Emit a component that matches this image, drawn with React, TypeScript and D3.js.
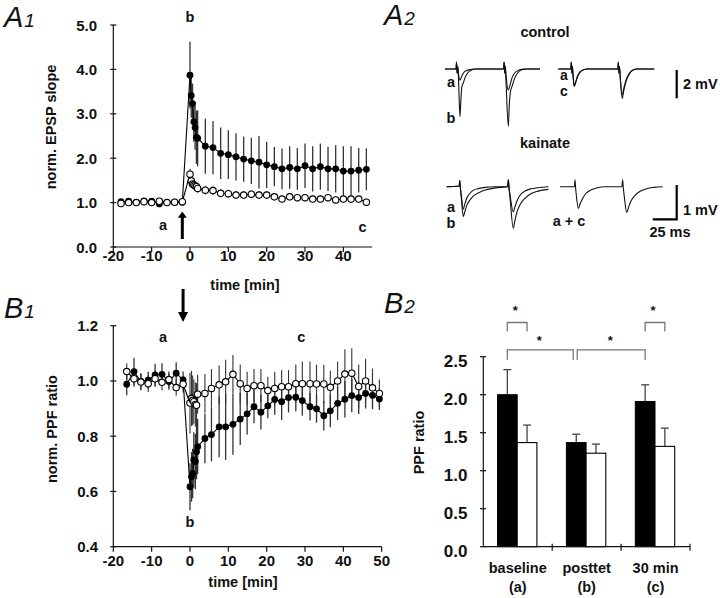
import React from 'react';
import * as d3 from 'd3';

const FONT = '"Liberation Sans", Arial, Helvetica, sans-serif';

// ---------- A1: norm. EPSP slope ----------
const a1Times = [-18, -16, -14, -12, -10, -8, -6, -4, -2, 0, 0.33, 0.67, 1, 1.33, 1.67, 2, 4, 6, 8, 10, 12, 14, 16, 18, 20, 22, 24, 26, 28, 30, 32, 34, 36, 38, 40, 42, 44, 46];
const a1Kainate = [1.02, 1.03, 1.0, 1.04, 1.03, 0.97, 1.0, 1.01, 1.01, 3.87, 3.41, 3.23, 2.82, 2.69, 2.47, 2.45, 2.27, 2.24, 2.11, 2.08, 2.03, 1.98, 1.94, 1.91, 1.85, 1.81, 1.76, 1.79, 1.76, 1.83, 1.76, 1.81, 1.76, 1.76, 1.71, 1.71, 1.73, 1.75];
const a1KainateErr = [0.04, 0.03, 0.03, 0.03, 0.04, 0.05, 0.03, 0.03, 0.03, 0.75, 0.5, 0.45, 0.45, 0.5, 0.6, 0.63, 0.62, 0.6, 0.58, 0.55, 0.53, 0.51, 0.52, 0.59, 0.52, 0.44, 0.46, 0.48, 0.47, 0.5, 0.51, 0.52, 0.5, 0.53, 0.56, 0.56, 0.5, 0.47];
const a1Control = [0.98, 1.0, 1.0, 1.02, 1.0, 1.03, 1.0, 1.01, 1.02, 1.64, 1.49, 1.42, 1.4, 1.38, 1.36, 1.32, 1.28, 1.27, 1.21, 1.2, 1.17, 1.17, 1.19, 1.17, 1.17, 1.13, 1.08, 1.13, 1.11, 1.11, 1.08, 1.08, 1.11, 1.06, 1.08, 1.08, 1.08, 1.01];
const a1ControlErr = [0.03, 0.03, 0.03, 0.03, 0.03, 0.03, 0.03, 0.03, 0.03, 0.12, 0.1, 0.1, 0.1, 0.1, 0.1, 0.1, 0.1, 0.1, 0.09, 0.09, 0.09, 0.09, 0.09, 0.09, 0.09, 0.08, 0.08, 0.08, 0.08, 0.08, 0.08, 0.08, 0.08, 0.08, 0.08, 0.08, 0.08, 0.08];
const a1YTicks = [0, 1, 2, 3, 4, 5];
const a1XTicks = [-20, -10, 0, 10, 20, 30, 40];

// ---------- B1: norm. PPF ratio ----------
const b1Times = [-16.5, -14.6, -12.8, -10.9, -9.1, -7.3, -5.5, -3.6, -1.8, 0, 0.4, 0.7, 1.0, 1.4, 1.7, 2.0, 3.9, 5.6, 7.6, 9.3, 11.2, 13.1, 14.9, 16.7, 18.5, 20.3, 22.1, 23.9, 25.7, 27.6, 29.3, 31.3, 33.0, 34.9, 36.6, 38.5, 40.4, 42.2, 44.0, 45.8, 47.6, 49.4];
const b1Kainate = [0.988, 1.034, 0.998, 1.003, 1.022, 1.024, 0.998, 1.028, 1.004, 0.617, 0.653, 0.665, 0.714, 0.708, 0.744, 0.762, 0.792, 0.806, 0.834, 0.834, 0.843, 0.862, 0.881, 0.907, 0.887, 0.91, 0.933, 0.925, 0.94, 0.941, 0.929, 0.907, 0.899, 0.874, 0.892, 0.919, 0.934, 0.947, 0.94, 0.955, 0.948, 0.935];
const b1KainateErr = [0.04, 0.05, 0.03, 0.03, 0.04, 0.04, 0.03, 0.04, 0.03, 0.085, 0.09, 0.09, 0.1, 0.1, 0.1, 0.1, 0.09, 0.097, 0.11, 0.12, 0.11, 0.094, 0.075, 0.06, 0.063, 0.045, 0.055, 0.066, 0.054, 0.051, 0.055, 0.05, 0.05, 0.053, 0.06, 0.06, 0.066, 0.06, 0.06, 0.055, 0.05, 0.04];
const b1Control = [1.034, 1.008, 0.996, 0.99, 1.008, 0.995, 1.005, 0.976, 0.988, 0.92, 0.937, 0.93, 0.925, 0.915, 0.912, 0.952, 0.955, 0.973, 0.986, 0.997, 1.024, 0.99, 0.973, 0.983, 0.983, 0.965, 0.973, 0.979, 0.979, 0.99, 0.99, 0.99, 0.989, 0.989, 0.977, 1.0, 1.025, 1.028, 0.98, 1.0, 0.975, 0.955];
const b1ControlErr = [0.03, 0.03, 0.03, 0.03, 0.03, 0.03, 0.03, 0.03, 0.03, 0.11, 0.1, 0.09, 0.08, 0.08, 0.08, 0.07, 0.07, 0.07, 0.07, 0.08, 0.07, 0.07, 0.06, 0.06, 0.06, 0.05, 0.06, 0.06, 0.06, 0.07, 0.08, 0.08, 0.07, 0.07, 0.06, 0.07, 0.09, 0.09, 0.08, 0.08, 0.07, 0.05];
const b1YTicks = [0.4, 0.6, 0.8, 1.0, 1.2];
const b1XTicks = [-20, -10, 0, 10, 20, 30, 40, 50];

// ---------- B2: PPF ratio bars ----------
const b2Categories = ['baseline', 'posttet', '30 min'];
const b2SubLabels = ['(a)', '(b)', '(c)'];
const b2Kainate = [2.0, 1.37, 1.91];
const b2KainateErr = [0.33, 0.11, 0.22];
const b2Control = [1.37, 1.23, 1.32];
const b2ControlErr = [0.23, 0.12, 0.24];
const b2YTicks = [0, 0.5, 1.0, 1.5, 2.0, 2.5];

// ---------- A2: example traces [ms, mV] ----------
const ctrlA = [[0, 0], [11.5, 0], [12, 0.5], [12.6, -0.3], [13.2, 0.2], [14, -0.3], [15.6, -0.8], [17, -0.6], [19, -0.3], [22, -0.12], [27, -0.03], [30, 0], [61, 0], [61.6, 0.5], [62.2, -0.3], [62.8, 0.2], [63.5, -0.4], [66, -1.5], [67.5, -1.2], [70, -0.6], [73, -0.25], [78, -0.05], [82, 0], [99, 0]];
const ctrlB = [[0, 0], [11.5, 0], [12, 0.5], [12.6, -0.3], [13.2, 0.2], [14, -0.6], [15.6, -3.4], [16.3, -2.5], [17.5, -1.3], [19, -1.0], [21, -0.6], [24, -0.25], [28, -0.06], [32, 0], [61, 0], [61.6, 0.5], [62.2, -0.3], [62.8, 0.2], [63.5, -0.8], [66, -4.1], [66.8, -2.8], [68, -1.7], [70, -1.2], [73, -0.6], [76, -0.25], [80, -0.06], [85, 0], [99, 0]];
const ctrlA2 = [[0, 0], [13, 0], [13.5, 0.5], [14.1, -0.3], [14.7, 0.2], [15.3, -0.4], [16.5, -1.25], [18, -1.0], [20, -0.55], [23, -0.2], [27, -0.04], [30, 0], [62, 0], [62.5, 0.5], [63.1, -0.3], [63.7, 0.2], [64.4, -0.5], [66.6, -2.1], [68, -1.6], [70.5, -0.9], [74, -0.35], [78, -0.08], [82, 0], [100, 0]];
const ctrlC = [[0, 0], [13, 0], [13.5, 0.5], [14.1, -0.3], [14.7, 0.2], [15.3, -0.4], [16.5, -1.18], [18, -0.95], [20, -0.5], [23, -0.18], [27, -0.03], [30, 0], [62, 0], [62.5, 0.5], [63.1, -0.3], [63.7, 0.2], [64.4, -0.5], [66.6, -1.85], [68, -1.45], [70.5, -0.8], [74, -0.3], [78, -0.06], [82, 0], [100, 0]];
const kaiA = [[0, 0], [13, 0.02], [13.6, 0.18], [14.3, -0.05], [15, -0.2], [17.3, -0.66], [19, -0.5], [21, -0.33], [24, -0.2], [28, -0.1], [34, -0.05], [40, -0.02], [50, 0], [63.5, 0], [64.2, 0.2], [65, -0.05], [66, -0.25], [69.4, -0.74], [71, -0.6], [73.5, -0.4], [77, -0.23], [82, -0.12], [88, -0.06], [95, -0.03], [106, 0]];
const kaiB = [[0, 0], [13, 0.02], [13.6, 0.18], [14.3, -0.05], [15, -0.25], [17.3, -0.88], [19, -0.72], [21, -0.55], [24, -0.4], [28, -0.27], [34, -0.17], [40, -0.1], [48, -0.05], [55, -0.02], [63.5, 0], [64.2, 0.2], [65, -0.05], [66, -0.35], [69.4, -1.22], [71, -1.0], [73.5, -0.72], [77, -0.5], [82, -0.33], [88, -0.2], [95, -0.13], [106, -0.08]];
const kaiAC = [[0, 0], [15, 0], [15.6, 0.2], [16.3, -0.05], [17, -0.25], [19.1, -0.64], [21, -0.5], [23.5, -0.35], [27, -0.2], [32, -0.1], [38, -0.04], [47, 0], [64.5, 0], [65.2, 0.2], [66, -0.05], [67, -0.3], [69.5, -0.76], [71.5, -0.6], [74, -0.42], [78, -0.26], [83, -0.14], [90, -0.06], [98, -0.02], [107, 0]];

const fmt1 = d3.format('.1f');

function PanelLabel({ x, y, letter, num }: any) {
  return (
    <text x={x} y={y} fontFamily={FONT} fontStyle="italic" fill="#111">
      <tspan fontSize={29}>{letter}</tspan>
      <tspan fontSize={19} dx={1}>{num}</tspan>
    </text>
  );
}

function TimeSeries({ times, kai, kaiErr, ctl, ctlErr, x, y }: any) {
  const line = d3.line<number>().x((_, i) => x(times[i])).y((d) => y(d));
  return (
    <g>
      {times.map((t: number, i: number) => (
        <line key={'ke' + i} x1={x(t)} x2={x(t)} y1={y(kai[i] - kaiErr[i])} y2={y(kai[i] + kaiErr[i])} stroke="#333" strokeWidth={1.3} />
      ))}
      {times.map((t: number, i: number) => (
        <line key={'ce' + i} x1={x(t)} x2={x(t)} y1={y(ctl[i] - ctlErr[i])} y2={y(ctl[i] + ctlErr[i])} stroke="#333" strokeWidth={1.1} />
      ))}
      <path d={line(kai) || ''} fill="none" stroke="#000" strokeWidth={1.1} />
      <path d={line(ctl) || ''} fill="none" stroke="#000" strokeWidth={1.1} />
      {times.map((t: number, i: number) => (
        <circle key={'kc' + i} cx={x(t)} cy={y(kai[i])} r={3.4} fill="#000" />
      ))}
      {times.map((t: number, i: number) => (
        <circle key={'cc' + i} cx={x(t)} cy={y(ctl[i])} r={3.2} fill="#fff" stroke="#000" strokeWidth={1.1} />
      ))}
    </g>
  );
}

function Trace({ data, x0, y0, pxPerMv }: any) {
  const xs = d3.scaleLinear().domain([0, 25]).range([x0, x0 + 24]);
  const ys = d3.scaleLinear().domain([0, 1]).range([y0, y0 - pxPerMv]);
  const line = d3.line<number[]>().x((d) => xs(d[0])).y((d) => ys(d[1])).curve(d3.curveMonotoneX);
  return <path d={line(data) || ''} fill="none" stroke="#111" strokeWidth={1.1} />;
}

export default function App() {
  const bold = { fontFamily: FONT, fontWeight: 700, fill: '#111' } as any;

  const xA = d3.scaleLinear().domain([-20, 50]).range([113.3, 381.7]);
  const yA1 = d3.scaleLinear().domain([0, 5]).range([247, 25]);
  const yB1 = d3.scaleLinear().domain([0.4, 1.2]).range([546.7, 325.7]);

  const xB2 = d3.scaleBand().domain(b2Categories).range([483.3, 690]).padding(0);
  const xSub = d3.scaleBand().domain(['k', 'c']).range([14.2, 53.6]).padding(0);
  const yB2 = d3.scaleLinear().domain([0, 2.5]).range([546.7, 356.7]);

  const barCenter = (cat: string, s: string) => (xB2(cat) as number) + (xSub(s) as number) + xSub.bandwidth() / 2;

  const brackets = [
    { x1: barCenter('baseline', 'k'), x2: barCenter('baseline', 'c'), top: 2.95, foot: 2.83 },
    { x1: barCenter('30 min', 'k'), x2: barCenter('30 min', 'c'), top: 2.95, foot: 2.83 },
    { x1: barCenter('baseline', 'k'), x2: barCenter('posttet', 'k') - 3, top: 2.59, foot: 2.46 },
    { x1: barCenter('posttet', 'k') + 1, x2: barCenter('30 min', 'k'), top: 2.59, foot: 2.46 },
  ];

  return (
    <svg width={720} height={598} style={{ position: 'absolute', left: 0, top: 0, background: '#fff' }}>
      <rect x={0} y={0} width={720} height={598} fill="#fff" />

      {/* ================= A1 ================= */}
      <PanelLabel x={4} y={27} letter="A" num="1" />
      <line x1={xA(-20)} x2={xA(-20)} y1={yA1(0)} y2={yA1(5)} stroke="#111" strokeWidth={1.2} />
      <line x1={xA(-20)} x2={xA(47.5)} y1={yA1(0)} y2={yA1(0)} stroke="#111" strokeWidth={1.2} />
      {a1YTicks.map((v) => (
        <g key={'ay' + v}>
          <line x1={xA(-20) - 3} x2={xA(-20) + 3} y1={yA1(v)} y2={yA1(v)} stroke="#111" strokeWidth={1.2} />
          <text x={97} y={yA1(v) + 5.5} textAnchor="end" fontSize={15} {...bold}>{fmt1(v)}</text>
        </g>
      ))}
      {a1XTicks.map((v) => (
        <g key={'ax' + v}>
          <line x1={xA(v)} x2={xA(v)} y1={yA1(0)} y2={yA1(0) + 5} stroke="#111" strokeWidth={1.2} />
          <text x={xA(v)} y={261} textAnchor="middle" fontSize={15} {...bold}>{v}</text>
        </g>
      ))}
      <text transform="translate(56,127) rotate(-90)" textAnchor="middle" fontSize={14.5} {...bold}>norm. EPSP slope</text>
      <text x={245} y={290} textAnchor="middle" fontSize={14.5} {...bold}>time [min]</text>
      <TimeSeries times={a1Times} kai={a1Kainate} kaiErr={a1KainateErr} ctl={a1Control} ctlErr={a1ControlErr} x={xA} y={yA1} />
      <text x={xA(-7)} y={yA1(0.5) + 5} textAnchor="middle" fontSize={14.5} {...bold}>a</text>
      <text x={xA(0)} y={22} textAnchor="middle" fontSize={14.5} {...bold}>b</text>
      <text x={xA(45)} y={yA1(0.45) + 5} textAnchor="middle" fontSize={14.5} {...bold}>c</text>
      <line x1={xA(-2)} x2={xA(-2)} y1={yA1(0.18)} y2={yA1(0.68)} stroke="#000" strokeWidth={3} />
      <path d={`M${xA(-2) - 4.5},${yA1(0.66)} L${xA(-2)},${yA1(0.8)} L${xA(-2) + 4.5},${yA1(0.66)} Z`} fill="#000" />

      <line x1={xA(-1.8)} x2={xA(-1.8)} y1={yB1(1.333)} y2={yB1(1.245)} stroke="#000" strokeWidth={3} />
      <path d={`M${xA(-1.8) - 5},${yB1(1.25)} L${xA(-1.8)},${yB1(1.213)} L${xA(-1.8) + 5},${yB1(1.25)} Z`} fill="#000" />

      {/* ================= B1 ================= */}
      <PanelLabel x={4} y={318} letter="B" num="1" />
      <line x1={xA(-20)} x2={xA(-20)} y1={yB1(0.4)} y2={yB1(1.2)} stroke="#111" strokeWidth={1.2} />
      <line x1={xA(-20)} x2={xA(50)} y1={yB1(0.4)} y2={yB1(0.4)} stroke="#111" strokeWidth={1.2} />
      {b1YTicks.map((v) => (
        <g key={'by' + v}>
          <line x1={xA(-20) - 3} x2={xA(-20) + 3} y1={yB1(v)} y2={yB1(v)} stroke="#111" strokeWidth={1.2} />
          <text x={98} y={yB1(v) + 5.5} textAnchor="end" fontSize={15} {...bold}>{fmt1(v)}</text>
        </g>
      ))}
      {b1XTicks.map((v) => (
        <g key={'bx' + v}>
          <line x1={xA(v)} x2={xA(v)} y1={yB1(0.4)} y2={yB1(0.4) + 5} stroke="#111" strokeWidth={1.2} />
          <text x={xA(v)} y={566} textAnchor="middle" fontSize={15} {...bold}>{v}</text>
        </g>
      ))}
      <text transform="translate(57,429) rotate(-90)" textAnchor="middle" fontSize={14.5} {...bold}>norm. PPF ratio</text>
      <text x={243} y={587} textAnchor="middle" fontSize={14.5} {...bold}>time [min]</text>
      <TimeSeries times={b1Times} kai={b1Kainate} kaiErr={b1KainateErr} ctl={b1Control} ctlErr={b1ControlErr} x={xA} y={yB1} />
      <text x={xA(-7)} y={yB1(1.16) + 5} textAnchor="middle" fontSize={14.5} {...bold}>a</text>
      <text x={xA(29)} y={yB1(1.16) + 5} textAnchor="middle" fontSize={14.5} {...bold}>c</text>
      <text x={xA(0)} y={yB1(0.49) + 5} textAnchor="middle" fontSize={14.5} {...bold}>b</text>

      {/* ================= A2 ================= */}
      <PanelLabel x={384} y={25} letter="A" num="2" />
      <text x={545} y={36.5} textAnchor="middle" fontSize={14.5} {...bold}>control</text>
      <Trace data={ctrlA} x0={445} y0={69} pxPerMv={14} />
      <Trace data={ctrlB} x0={445} y0={69} pxPerMv={14} />
      <Trace data={ctrlA2} x0={558.3} y0={69} pxPerMv={14} />
      <Trace data={ctrlC} x0={558.3} y0={69} pxPerMv={14} />
      <text x={451} y={87} textAnchor="middle" fontSize={14.5} {...bold}>a</text>
      <text x={451} y={123} textAnchor="middle" fontSize={14.5} {...bold}>b</text>
      <text x={564} y={80} textAnchor="middle" fontSize={14} {...bold}>a</text>
      <text x={564} y={95.5} textAnchor="middle" fontSize={14} {...bold}>c</text>
      <line x1={676.7} x2={676.7} y1={70} y2={98.3} stroke="#000" strokeWidth={2.2} />
      <text x={683} y={89} fontSize={14.5} {...bold}>2 mV</text>

      <text x={545} y={148} textAnchor="middle" fontSize={14.5} {...bold}>kainate</text>
      <Trace data={kaiA} x0={446.7} y0={186.7} pxPerMv={34} />
      <Trace data={kaiB} x0={446.7} y0={186.7} pxPerMv={34} />
      <Trace data={kaiAC} x0={560} y0={186.7} pxPerMv={34} />
      <text x={451} y={212} textAnchor="middle" fontSize={14.5} {...bold}>a</text>
      <text x={451} y={228} textAnchor="middle" fontSize={14.5} {...bold}>b</text>
      <text x={569} y={226} textAnchor="middle" fontSize={14.5} {...bold}>a + c</text>
      <path d="M652.7,219.3 L676.7,219.3 L676.7,185" fill="none" stroke="#000" strokeWidth={2.2} />
      <text x={683} y={215} fontSize={14.5} {...bold}>1 mV</text>
      <text x={670} y={237} textAnchor="middle" fontSize={14.5} {...bold}>25 ms</text>

      {/* ================= B2 ================= */}
      <PanelLabel x={384} y={313} letter="B" num="2" />
      {b2Categories.map((c, i) => (
        <g key={'bar' + c}>
          <line x1={barCenter(c, 'k')} x2={barCenter(c, 'k')} y1={yB2(b2Kainate[i])} y2={yB2(b2Kainate[i] + b2KainateErr[i])} stroke="#444" strokeWidth={1.3} />
          <line x1={barCenter(c, 'k') - 4} x2={barCenter(c, 'k') + 4} y1={yB2(b2Kainate[i] + b2KainateErr[i])} y2={yB2(b2Kainate[i] + b2KainateErr[i])} stroke="#444" strokeWidth={1.3} />
          <line x1={barCenter(c, 'c')} x2={barCenter(c, 'c')} y1={yB2(b2Control[i])} y2={yB2(b2Control[i] + b2ControlErr[i])} stroke="#444" strokeWidth={1.3} />
          <line x1={barCenter(c, 'c') - 4} x2={barCenter(c, 'c') + 4} y1={yB2(b2Control[i] + b2ControlErr[i])} y2={yB2(b2Control[i] + b2ControlErr[i])} stroke="#444" strokeWidth={1.3} />
          <rect x={(xB2(c) as number) + (xSub('k') as number)} y={yB2(b2Kainate[i])} width={xSub.bandwidth()} height={yB2(0) - yB2(b2Kainate[i])} fill="#000" stroke="#000" strokeWidth={1} />
          <rect x={(xB2(c) as number) + (xSub('c') as number)} y={yB2(b2Control[i])} width={xSub.bandwidth()} height={yB2(0) - yB2(b2Control[i])} fill="#fff" stroke="#000" strokeWidth={1.1} />
          <text x={(xB2(c) as number) + xB2.bandwidth() / 2} y={573} textAnchor="middle" fontSize={14.5} {...bold}>{c}</text>
          <text x={(xB2(c) as number) + xB2.bandwidth() / 2} y={592} textAnchor="middle" fontSize={14.5} {...bold}>{b2SubLabels[i]}</text>
        </g>
      ))}
      <line x1={483.3} x2={483.3} y1={yB2(0)} y2={yB2(2.5)} stroke="#111" strokeWidth={1.2} />
      <line x1={483.3} x2={690} y1={yB2(0)} y2={yB2(0)} stroke="#111" strokeWidth={1.2} />
      {b2YTicks.map((v) => (
        <g key={'b2y' + v}>
          <line x1={480} x2={486} y1={yB2(v)} y2={yB2(v)} stroke="#111" strokeWidth={1.2} />
          <text x={467.5} y={yB2(v) + 10} textAnchor="end" fontSize={17} {...bold}>{fmt1(v)}</text>
        </g>
      ))}
      {[...b2Categories.map((c) => xB2(c) as number), 690].slice(1).map((xv, i) => (
        <line key={'b2x' + i} x1={xv} x2={xv} y1={yB2(0) - 3} y2={yB2(0) + 4} stroke="#111" strokeWidth={1.2} />
      ))}
      <text transform="translate(423.5,442.5) rotate(-90)" textAnchor="middle" fontSize={14.5} {...bold}>PPF ratio</text>
      {brackets.map((b, i) => (
        <g key={'br' + i}>
          <path d={`M${b.x1},${yB2(b.foot)} L${b.x1},${yB2(b.top)} L${b.x2},${yB2(b.top)} L${b.x2},${yB2(b.foot)}`} fill="none" stroke="#777" strokeWidth={1.3} />
          <text x={(b.x1 + b.x2) / 2 - (i < 2 ? 2 : 1)} y={yB2(b.top) - (i < 2 ? 8 : 5)} textAnchor="middle" fontSize={13} {...bold}>*</text>
        </g>
      ))}
    </svg>
  );
}
